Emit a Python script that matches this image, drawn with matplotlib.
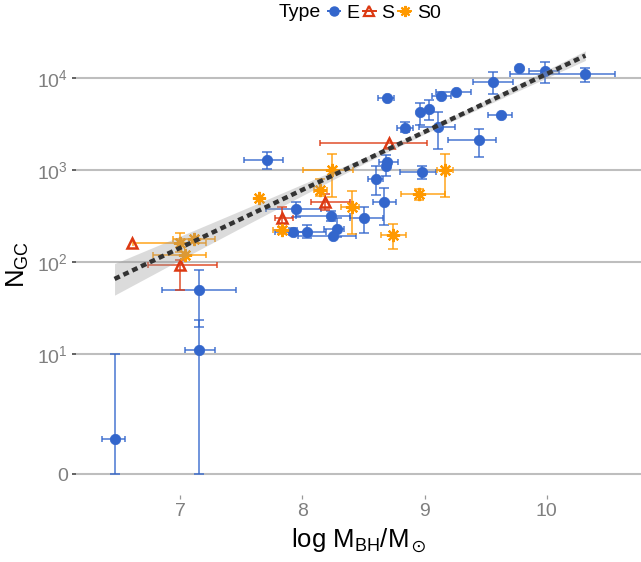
import numpy as np
import matplotlib.pyplot as plt
from matplotlib.lines import Line2D

plt.rcParams['font.family'] = 'Liberation Sans'
plt.rcParams['mathtext.fontset'] = 'custom'
plt.rcParams['mathtext.rm'] = 'Liberation Sans'
plt.rcParams['mathtext.it'] = 'Liberation Sans:italic'
plt.rcParams['mathtext.fallback'] = 'stixsans'

nan = np.nan

# Elliptical galaxies: log M_BH, N_GC and error ranges
e_x   = [6.465, 7.155, 7.155, 7.712, 7.951, 7.924, 8.040, 8.231, 8.282, 8.255,
         8.508, 8.668, 8.603, 8.684, 8.690, 8.980, 9.447, 9.111, 8.842, 8.962,
         9.040, 8.693, 9.133, 9.258, 9.559, 9.627, 9.771, 9.983, 10.315]
e_n   = [1.0, 11.1, 50, 1290, 377, 215, 215, 322, 230, 193,
         301, 452, 803, 1110, 1240, 950, 2118, 2980, 2900, 4270,
         4630, 6060, 6410, 7100, 9180, 4020, 12800, 12000, 11040]
e_xlo = [6.36, 7.04, 6.851, 7.52, 7.707, 7.78, 7.91, 7.951, 8.18, 7.964,
         8.39, 8.575, 8.535, nan, 8.63, 8.801, 9.195, 8.956, 8.771, nan,
         nan, 8.617, 9.065, 9.092, 9.396, 9.518, nan, 9.852, 9.698]
e_xhi = [6.55, 7.285, 7.462, 7.84, 8.152, 8.03, 8.195, 8.391, 8.345, 8.44,
         8.657, 8.766, 8.663, nan, 8.787, 9.092, 9.587, 9.249, 8.907, nan,
         nan, 8.752, 9.215, 9.382, 9.722, 9.716, nan, 10.097, 10.561]
e_nlo = [0, 0, 20, 1025, 311, 200, 182, 283, 190, nan,
         206, 254, 538, 860, nan, 800, 1380, 1700, 2630, 3080,
         3530, nan, nan, nan, 6760, nan, nan, 8900, 9000]
e_nhi = [10.2, 23.6, 82, 1590, 456, 235, 254, 361, 301, nan,
         402, 638, 1120, 1460, nan, 1110, 2810, 4330, 3320, 5430,
         5830, nan, nan, nan, 11600, nan, nan, 14860, 13000]

# Spirals
s_x   = [6.611, 7.000, 7.837, 8.182, 8.711]
s_n   = [161, 93.4, 306, 456, 1965]
s_xlo = [nan, 6.742, 7.78, 8.073, 8.141]
s_xhi = [nan, 7.304, 7.924, 8.391, 9.024]
s_nlo = [nan, 50, 224, 367, nan]
s_nhi = [nan, 106, 402, 552, nan]

# Lenticulars
s0_x   = [7.000, 7.114, 7.041, 7.644, 7.837, 8.149, 8.241, 8.404, 8.739, 8.956, 9.168]
s0_n   = [163, 178, 120, 496, 224, 611, 1010, 402, 198, 552, 1010]
s0_xlo = [6.62, 6.94, 6.78, nan, 7.76, 8.10, 8.005, 8.318, 8.644, 8.807, 9.105]
s0_xhi = [7.21, 7.285, 7.212, nan, 7.92, 8.20, 8.413, 8.467, 8.847, 9.168, 9.236]
s0_nlo = [130, nan, nan, nan, 205, 525, 508, 203, 138, 475, 508]
s0_nhi = [206, nan, nan, nan, 245, 798, 1500, 601, 260, 631, 1500]

# Linear fit (in asinh space) with its confidence band
fit_x = [6.465, 10.315]
fit_n = [66, 17600]
band_x  = [6.465, 7.0, 7.5, 8.0, 8.5, 9.0, 9.5, 10.0, 10.315]
band_lo = [44.0, 106, 238, 530, 1171, 2476, 5024, 10080, 15600]
band_hi = [97.0, 192, 366, 704, 1361, 2747, 5780, 12310, 19830]

y_ticks = [0, 10, 100, 1000, 10000]
y_labels = ['0', r'$10^{1}$', r'$10^{2}$', r'$10^{3}$', r'$10^{4}$']
x_ticks = [7, 8, 9, 10]

c_e, c_s, c_s0 = '#3366cc', '#dc3912', '#ff9900'

fig = plt.figure(figsize=(6.41, 5.62), dpi=100)
ax = fig.add_axes([0.1186, 0.1192, 0.8814, 0.8196])
ax.set_yscale('function', functions=(np.arcsinh, np.sinh))


def draw_group(x, n, xlo, xhi, nlo, nhi, color, **mk):
    x, n = np.array(x), np.array(n, dtype=float)
    xlo, xhi = np.array(xlo), np.array(xhi)
    nlo, nhi = np.array(nlo, dtype=float), np.array(nhi, dtype=float)
    ax.errorbar(x, n, yerr=[n - nlo, nhi - n], fmt='none', ecolor=color,
                alpha=0.7, elinewidth=1.4, capsize=3.4, capthick=1.4, zorder=2)
    ax.errorbar(x, n, xerr=[x - xlo, xhi - x], fmt='none', ecolor=color,
                alpha=0.7, elinewidth=1.4, capsize=2.0, capthick=1.4, zorder=2)
    ax.plot(x, n, linestyle='none', color=color, mec=color, zorder=3, **mk)


draw_group(e_x, e_n, e_xlo, e_xhi, e_nlo, e_nhi, c_e,
           marker='o', ms=7.5, mfc=c_e, mew=0.5)
draw_group(s_x, s_n, s_xlo, s_xhi, s_nlo, s_nhi, c_s,
           marker='^', ms=7.5, mfc='none', mew=1.8)
draw_group(s0_x, s0_n, s0_xlo, s0_xhi, s0_nlo, s0_nhi, c_s0,
           marker=(8, 2, 0), ms=9.5, mew=1.6)

ax.fill_between(band_x, band_lo, band_hi, color='#999999', alpha=0.35, lw=0, zorder=4)
ax.plot(fit_x, fit_n, color='#333333', lw=3.2, linestyle=(0, (1.3, 0.9)),
        dash_capstyle='butt', zorder=5)

ax.set_xlim(6.15, 10.77)
ax.set_ylim(-0.544, 29900)
ax.set_yticks(y_ticks)
ax.set_yticklabels(y_labels)
ax.set_xticks(x_ticks)
ax.yaxis.grid(True, color='#bebebe', lw=1.5)
ax.xaxis.grid(False)
ax.set_axisbelow(True)
for sp in ax.spines.values():
    sp.set_visible(False)
ax.tick_params(axis='y', length=3, width=1.3, color='#555555',
               labelcolor='#7f7f7f', labelsize=14, pad=3)
ax.tick_params(axis='x', length=3, width=0.9, color='#999999',
               labelcolor='#7f7f7f', labelsize=14, pad=3)

ax.set_xlabel(r'log M$_\mathrm{BH}$/M$_\odot$', fontsize=18.5, labelpad=5)
ax.set_ylabel(r'N$_\mathrm{GC}$', fontsize=18.5, labelpad=4)

# legend across the top
handles = [
    Line2D([], [], color=c_e, marker='o', ms=6.5, mec=c_e, lw=1.4),
    Line2D([], [], color=c_s, marker='^', ms=6.5, mfc='none', mec=c_s, mew=1.6, lw=1.4),
    Line2D([], [], color=c_s0, marker=(8, 2, 0), ms=8, mec=c_s0, mew=1.5, lw=1.4),
]
fig.text(0.501, 0.977, 'Type', fontsize=14, ha='right', va='center')
fig.legend(handles, ['E', 'S', 'S0'], loc='center left', bbox_to_anchor=(0.511, 0.977),
           ncol=3, frameon=False, fontsize=14, handlelength=0.65,
           handletextpad=0.3, columnspacing=0.2, borderpad=0, borderaxespad=0)

fig.savefig('out.png', dpi=100)
